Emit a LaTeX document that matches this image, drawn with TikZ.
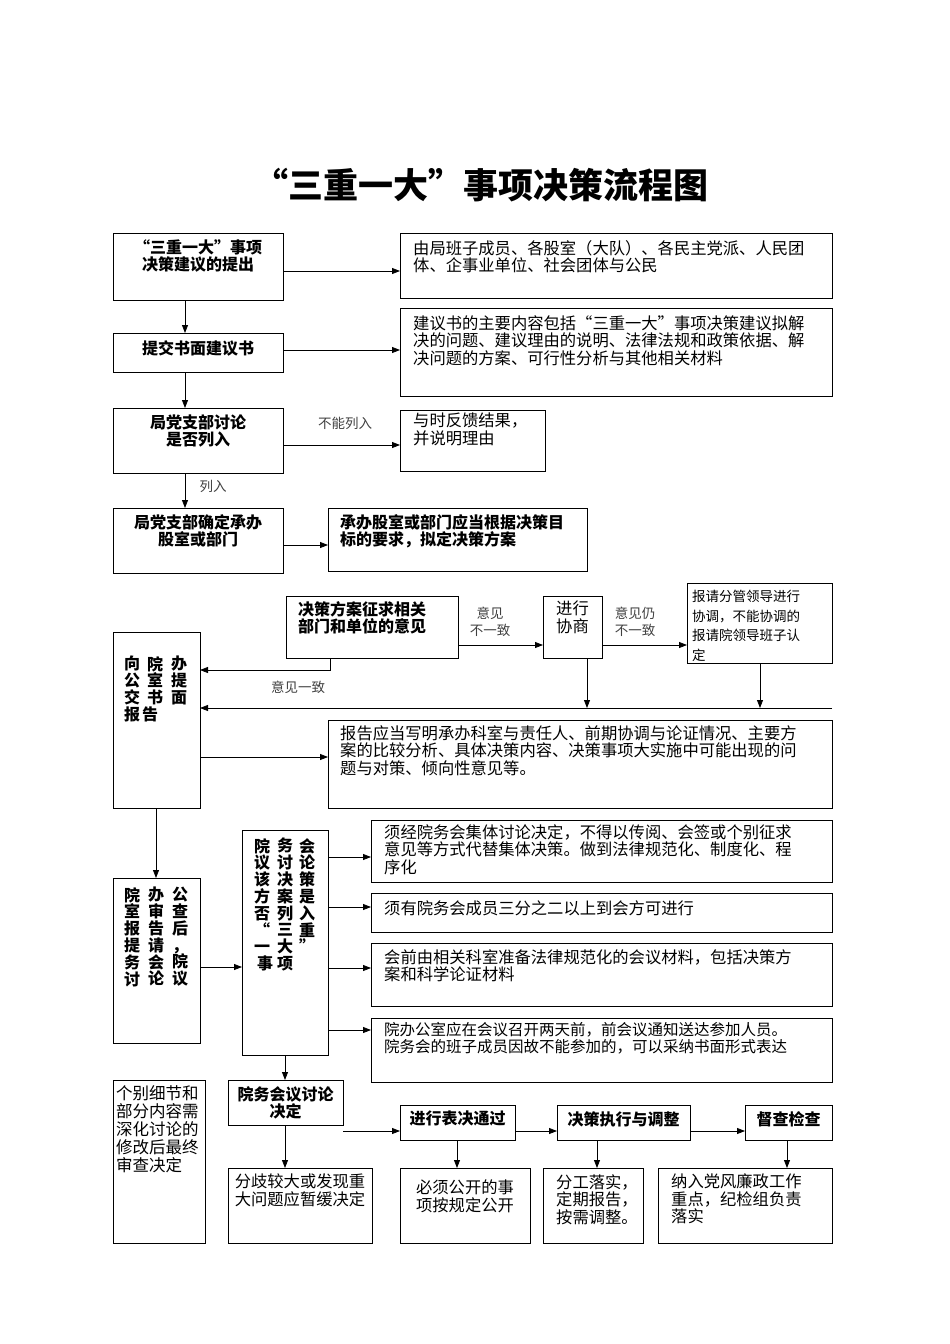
\documentclass[tikz,border=0pt]{standalone}
\usepackage{fontspec}
\setmainfont{Noto Sans CJK SC}
\usetikzlibrary{arrows.meta}
\begin{document}
\begin{tikzpicture}[x=1pt,y=-1pt,
 bx/.style={draw,line width=0.9pt},
 ar/.style={-{Triangle[length=8pt,width=6pt]},line width=0.8pt},
 tx/.style={inner sep=0pt,anchor=north west,align=left,font=\fontsize{16.3}{17.5}\selectfont},
 bt/.style={inner sep=0pt,anchor=north,align=center,font=\fontsize{16}{17}\selectfont\bfseries},
 lb/.style={inner sep=0pt,align=center,font=\fontsize{13.5}{17}\selectfont,text=black!75},
 vc/.style={inner sep=0pt,anchor=north,align=center,font=\fontsize{16}{16.8}\selectfont\bfseries}]
\useasboundingbox (0,0) rectangle (950,1344);
\node[inner sep=0pt,font=\fontsize{35}{38}\selectfont\bfseries] (title) at (481,185) {“三重一大”事项决策流程图};
% row A
\draw[bx] (113,233) rectangle (283,300);
\node[bt] (At) at (198,239) {“三重一大”事项\\决策建议的提出};
\draw[bx] (400,233) rectangle (832,298);
\node[tx] (Ar) at (413,240) {由局班子成员、各股室（大队）、各民主党派、人民团\\体、企事业单位、社会团体与公民};
\coordinate (a1) at (283,271); \coordinate (a2) at (400,271); \draw[ar] (a1)--(a2);
\coordinate (b0) at (185,300); \coordinate (b1) at (185,333); \draw[ar] (b0)--(b1);
% row B
\draw[bx] (113,333) rectangle (283,372);
\node[bt] (Bt) at (198,340) {提交书面建议书};
\draw[bx] (400,308) rectangle (832,396);
\node[tx] (Br) at (413,315) {建议书的主要内容包括“三重一大”事项决策建议拟解\\决的问题、建议理由的说明、法律法规和政策依据、解\\决问题的方案、可行性分析与其他相关材料};
\coordinate (c1) at (283,350); \coordinate (c2) at (400,350); \draw[ar] (c1)--(c2);
\coordinate (d0) at (185,372); \coordinate (d1) at (185,408); \draw[ar] (d0)--(d1);
% row C
\draw[bx] (113,408) rectangle (283,473);
\node[bt] (Ct) at (198,414) {局党支部讨论\\是否列入};
\draw[bx] (400,410) rectangle (545,471);
\node[tx] (Cr) at (413,413) {与时反馈结果，\\并说明理由};
\coordinate (e1) at (283,445); \coordinate (e2) at (400,445); \draw[ar] (e1)--(e2);
\node[lb] (l1) at (345,423) {不能列入};
\coordinate (f0) at (185,473); \coordinate (f1) at (185,508); \draw[ar] (f0)--(f1);
\node[lb] (l2) at (213,486) {列入};
% row D
\draw[bx] (113,508) rectangle (283,573);
\node[bt] (Dt) at (198,514) {局党支部确定承办\\股室或部门};
\draw[bx] (328,508) rectangle (587,571);
\node[bt,anchor=north west,align=left] (Dr) at (340,514) {承办股室或部门应当根据决策目\\标的要求，拟定决策方案};
\coordinate (g1) at (283,545); \coordinate (g2) at (328,545); \draw[ar] (g1)--(g2);
% row E
\draw[bx] (286,596) rectangle (458,658);
\node[bt,anchor=north west,align=left] (Et) at (298,601) {决策方案征求相关\\部门和单位的意见};
\draw[bx] (543,596) rectangle (602,658);
\node[tx,anchor=north,align=center] (Ft) at (572.5,601) {进行\\协商};
\draw[bx] (687,583) rectangle (832,663);
\begin{scope}
\clip (687,583) rectangle (832,663);
\node[tx,font=\fontsize{13.5}{19.5}\selectfont] (Gt) at (692,590) {报请分管领导进行\\协调，不能协调的\\报请院领导班子认\\定};
\end{scope}
\coordinate (h1) at (458,645); \coordinate (h2) at (543,645); \draw[ar] (h1)--(h2);
\node[lb] (l3) at (490,622) {意见\\不一致};
\coordinate (h3) at (602,645); \coordinate (h4) at (687,645); \draw[ar] (h3)--(h4);
\node[lb] (l4) at (635,622) {意见仍\\不一致};
% H box
\draw[bx] (113,632) rectangle (200,808);
\node[vc] (H1) at (179,656) {办\\提\\面};
\node[vc] (H2) at (155,656) {院\\室\\书};
\node[vc] (H3) at (132,656) {向\\公\\交\\报};
\node[vc] (H4) at (150,706.4) {告};
\coordinate (i0) at (330,658); \coordinate (i1) at (330,670); \coordinate (i2) at (200,670);
\draw[ar] (i0)--(i1)--(i2);
\node[lb] (l5) at (298,687) {意见一致};
\coordinate (j0) at (587,658); \coordinate (j1) at (587,708); \draw[ar] (j0)--(j1);
\coordinate (k0) at (760,663); \coordinate (k1) at (760,708); \draw[ar] (k0)--(k1);
\coordinate (k2) at (832,708); \coordinate (k3) at (200,708); \draw[ar] (k2)--(k3);
\draw[bx] (328,720) rectangle (832,808);
\node[tx] (It) at (340,725) {报告应当写明承办科室与责任人、前期协调与论证情况、主要方\\案的比较分析、具体决策内容、决策事项大实施中可能出现的问\\题与对策、倾向性意见等。};
\coordinate (m1) at (200,757); \coordinate (m2) at (328,757); \draw[ar] (m1)--(m2);
\coordinate (n0) at (156,808); \coordinate (n1) at (156,878); \draw[ar] (n0)--(n1);
% J box
\draw[bx] (113,878) rectangle (200,1043);
\node[vc] (J1) at (180,887) {公\\查\\后\\，\\院\\议};
\node[vc] (J2) at (156,887) {办\\审\\告\\请\\会\\论};
\node[vc] (J3) at (132,887) {院\\室\\报\\提\\务\\讨};
% K box
\draw[bx] (242,830) rectangle (328,1055);
\node[vc] (K1) at (307,838) {会\\论\\策\\是\\入\\重\\”};
\node[vc] (K2) at (285,838) {务\\讨\\决\\案\\列\\三\\大\\项};
\node[vc] (K3) at (262,838) {院\\议\\该\\方\\否\\“\\一};
\node[vc] (K5) at (265,955.6) {事};
\coordinate (o1) at (200,967); \coordinate (o2) at (242,967); \draw[ar] (o1)--(o2);
\draw[bx] (371,820) rectangle (832,882);
\node[tx] (L1) at (384,824) {须经院务会集体讨论决定，不得以传阅、会签或个别征求\\意见等方式代替集体决策。做到法律规范化、制度化、程\\序化};
\draw[bx] (371,893) rectangle (832,932);
\node[tx] (L2) at (384,900) {须有院务会成员三分之二以上到会方可进行};
\draw[bx] (371,943) rectangle (832,1006);
\node[tx] (L3) at (384,949) {会前由相关科室准备法律规范化的会议材料，包括决策方\\案和科学论证材料};
\draw[bx] (371,1018) rectangle (832,1082);
\node[tx,font=\fontsize{15.5}{17.5}\selectfont] (L4) at (384,1022) {院办公室应在会议召开两天前，前会议通知送达参加人员。\\院务会的班子成员因故不能参加的，可以采纳书面形式表达};
\foreach \yy in {857,907,968,1030} {\draw[ar] (328,\yy)--(371,\yy);}
\coordinate (p0) at (285,1055); \coordinate (p1) at (285,1080); \draw[ar] (p0)--(p1);
% bottom
\draw[bx] (228,1080) rectangle (343,1125);
\node[bt] (Mt) at (285.5,1086) {院务会议讨论\\决定};
\draw[bx] (113,1080) rectangle (205,1243);
\node[tx,font=\fontsize{16.5}{18}\selectfont] (Nt) at (116,1085) {个别细节和\\部分内容需\\深化讨论的\\修改后最终\\审查决定};
\draw[bx] (400,1105) rectangle (515,1140);
\node[bt] (Ot) at (457.5,1111) {进行表决通过};
\draw[bx] (557,1105) rectangle (690,1140);
\node[bt] (Pt) at (623.5,1111) {决策执行与调整};
\draw[bx] (745,1105) rectangle (832,1140);
\node[bt] (Qt) at (788.5,1111) {督查检查};
\draw[ar] (343,1131)--(400,1131);
\draw[ar] (515,1131)--(557,1131);
\draw[ar] (690,1131)--(745,1131);
\draw[bx] (228,1168) rectangle (372,1243);
\node[tx,anchor=north,align=center] (Rt) at (300,1174) {分歧较大或发现重\\大问题应暂缓决定};
\draw[bx] (400,1168) rectangle (530,1243);
\node[tx,anchor=north,align=center] (St) at (465,1180) {必须公开的事\\项按规定公开};
\draw[bx] (543,1168) rectangle (643,1243);
\node[tx,anchor=north west] (Tt) at (556,1174) {分工落实，\\定期报告，\\按需调整。};
\draw[bx] (658,1168) rectangle (832,1243);
\node[tx,anchor=north west] (Ut) at (671,1174) {纳入党风廉政工作\\重点，纪检组负责\\落实};
\draw[ar] (285,1125)--(285,1168);
\draw[ar] (457,1140)--(457,1168);
\draw[ar] (597,1140)--(597,1168);
\draw[ar] (787,1140)--(787,1168);
\end{tikzpicture}
\end{document}
